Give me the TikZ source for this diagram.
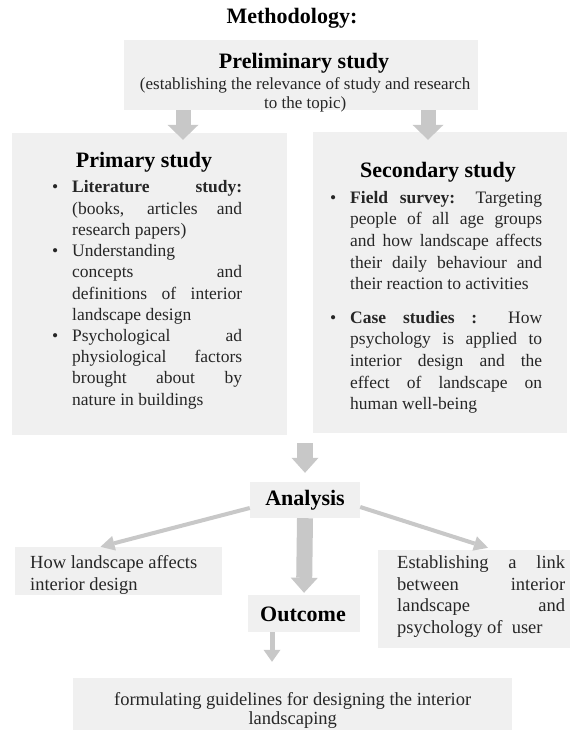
\documentclass[tikz,border=0pt]{standalone}
\usepackage{fontspec}
\setmainfont{Liberation Serif}
\usetikzlibrary{arrows.meta}
\definecolor{boxfill}{HTML}{F0F0F0}
\definecolor{arrowgray}{HTML}{C8C8C8}
\definecolor{bodytext}{HTML}{262626}
\newcommand\JL[2]{\hbox to #1{#2}}
\newcommand\LL[2]{\hbox to #1{#2\hfil}}
\newcommand\CL[2]{\hbox to #1{\hfil#2\hfil}}
\newcommand\bul{\llap{\textbullet\hskip 14pt}}
\tikzset{
  panel/.style={fill=boxfill, draw=none, inner sep=0pt},
  head/.style={font=\fontsize{22}{26}\selectfont\bfseries, text=black, inner sep=0pt},
  bodyblock/.style={text=bodytext, inner sep=0pt, anchor=base west},
  fatarrow/.style={draw=arrowgray, line width=15pt, -{Triangle[width=31pt,length=15pt,line width=0pt]}},
  midarrow/.style={draw=arrowgray, line width=16pt, -{Triangle[width=27pt,length=15pt,line width=0pt]}},
  slimarrow/.style={draw=arrowgray, line width=5pt, -{Triangle[width=17pt,length=12pt,line width=0pt]}},
  linearrow/.style={draw=arrowgray, line width=4pt, -{Triangle[width=15pt,length=14pt,line width=0pt]}},
}
\begin{document}
\begin{tikzpicture}[x=1pt,y=-1pt]
\useasboundingbox[fill=white] (0,0) rectangle (570,730);

% panels
\node[panel, minimum width=354pt, minimum height=70pt] (prelim) at (301,75) {};
\node[panel, minimum width=275pt, minimum height=302pt] (prim) at (149.5,284) {};
\node[panel, minimum width=254pt, minimum height=301pt] (sec) at (440,282.5) {};
\node[panel, minimum width=110pt, minimum height=36pt] (anal) at (305,500) {};
\node[panel, minimum width=112pt, minimum height=37pt] (outc) at (304,613.5) {};
\node[panel, minimum width=207pt, minimum height=48pt] (lbox) at (118.5,571) {};
\node[panel, minimum width=192pt, minimum height=98pt] (rbox) at (474,599) {};
\node[panel, minimum width=439pt, minimum height=57pt] (bbox) at (292.5,706.5) {};

% connectors
\draw[fatarrow, shorten >=-7pt] ([xshift=-118pt]prelim.south) -- ([xshift=-118pt]prelim.south |- prim.north);
\draw[fatarrow, shorten >=-8pt] ([xshift=127pt]prelim.south) -- ([xshift=127pt]prelim.south |- sec.north);
\coordinate (join) at ([yshift=-8pt]anal.north |- prim.south);
\draw[midarrow, shorten >=9pt] (join) -- (anal.north);
\draw[midarrow, shorten >=2pt] (anal.south) -- (outc.north);
\draw[slimarrow, shorten >=16pt] ([xshift=-32pt]outc.south) -- ([xshift=-32pt]outc.south |- bbox.north);
\draw[linearrow] ([yshift=-8pt]anal.west) -- ([xshift=-18pt]lbox.north);
\draw[linearrow] ([yshift=-7pt]anal.east) -- ([xshift=14pt,yshift=2pt]rbox.north);

% texts
\node[head] (title) at (292,18) {Methodology:};
\node[head] (prelimt) at (304,63) {Preliminary study};
\node[bodyblock, font=\fontsize{17}{19}\selectfont] (prelims) at (135,89.5) {\vtop{\baselineskip=19pt
  \CL{340pt}{(establishing the relevance of study and research}
  \CL{340pt}{to the topic)}}};

\node[head] (primt) at (144,162) {Primary study};
\node[bodyblock, font=\fontsize{17.5}{21.2}\selectfont] (primb) at (72,193) {\vtop{\baselineskip=21.2pt
  \JL{170pt}{\bul\textbf{Literature} \textbf{study:}}
  \JL{170pt}{(books, articles and}
  \LL{170pt}{research papers)}
  \LL{170pt}{\bul Understanding}
  \JL{170pt}{concepts and}
  \JL{170pt}{definitions of interior}
  \LL{170pt}{landscape design}
  \JL{170pt}{\bul Psychological ad}
  \JL{170pt}{physiological factors}
  \JL{170pt}{brought about by}
  \LL{170pt}{nature in buildings}}};

\node[head] (sect) at (438,172) {Secondary study};
\node[bodyblock, font=\fontsize{17.5}{21.7}\selectfont] (secb) at (350,203) {\vtop{\baselineskip=21.7pt
  \JL{192pt}{\bul\textbf{Field} \textbf{survey:} Targeting}
  \JL{192pt}{people of all age groups}
  \JL{192pt}{and how landscape affects}
  \JL{192pt}{their daily behaviour and}
  \LL{192pt}{their reaction to activities}
  \vskip 11.5pt
  \JL{192pt}{\bul\textbf{Case} \textbf{studies} \textbf{:} How}
  \JL{192pt}{psychology is applied to}
  \JL{192pt}{interior design and the}
  \JL{192pt}{effect of landscape on}
  \LL{192pt}{human well-being}}};

\node[head] (analt) at (305,500) {Analysis};
\node[head] (outct) at (303,614) {Outcome};

\node[bodyblock, font=\fontsize{18.5}{21.5}\selectfont] (lboxt) at (30,568.5) {\vtop{\baselineskip=21.5pt
  \LL{185pt}{How landscape affects}
  \LL{185pt}{interior design}}};

\node[bodyblock, font=\fontsize{18.5}{21.5}\selectfont] (rboxt) at (397,568.5) {\vtop{\baselineskip=21.5pt
  \JL{168pt}{Establishing a link}
  \JL{168pt}{between interior}
  \JL{168pt}{landscape and}
  \LL{168pt}{psychology of\ \ user}}};

\node[bodyblock, font=\fontsize{18.5}{19.5}\selectfont] (bboxt) at (73,705) {\vtop{\baselineskip=19.5pt
  \CL{439pt}{formulating guidelines for designing the interior}
  \CL{439pt}{landscaping}}};
\end{tikzpicture}
\end{document}
